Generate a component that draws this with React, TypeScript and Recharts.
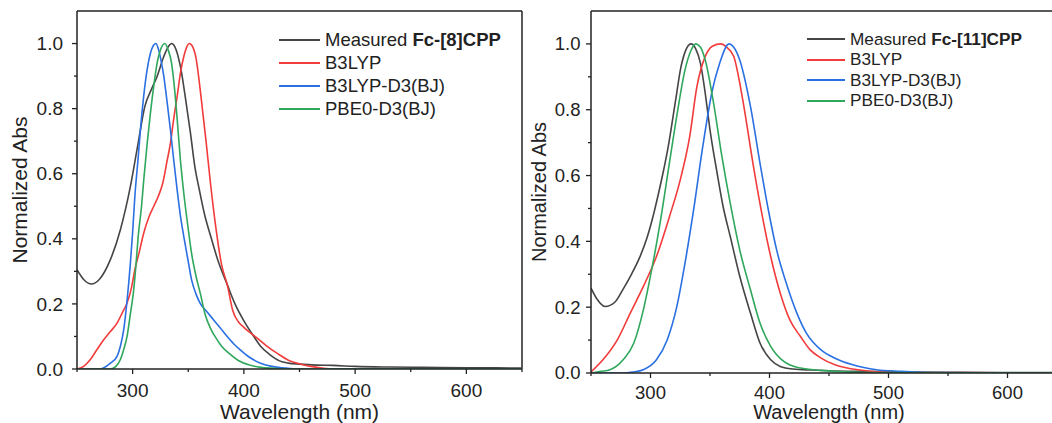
import { LineChart, Line, XAxis, YAxis, ReferenceLine, Legend } from "recharts";

// Fc-[8]CPP panel
const fc8MeasuredNm = [250, 256, 263, 270, 280, 289, 298, 305, 311, 317, 322, 328, 332, 335, 338, 343, 348, 352, 356, 360, 365, 370, 377, 385, 392, 400, 407, 415, 423, 432, 440, 450, 465, 480, 500, 530, 560, 600, 650];
const fc8MeasuredAbs = [0.305, 0.275, 0.261, 0.275, 0.336, 0.428, 0.561, 0.695, 0.807, 0.86, 0.899, 0.96, 0.99, 1.0, 0.99, 0.929, 0.82, 0.725, 0.62, 0.55, 0.47, 0.41, 0.33, 0.26, 0.2, 0.148, 0.11, 0.07, 0.045, 0.025, 0.018, 0.015, 0.012, 0.011, 0.008, 0.006, 0.005, 0.004, 0.003];

const fc8B3lypNm = [250, 256, 262, 268, 274, 280, 286, 291, 295, 299, 302, 306, 310, 315, 319, 323, 327, 331, 334, 337, 340, 343, 346, 349, 351, 354, 357, 360, 363, 366, 370, 375, 380, 385, 390, 395, 400, 405, 410, 420, 430, 440, 450, 460, 470, 480, 650];
const fc8B3lypAbs = [0, 0.008, 0.029, 0.06, 0.09, 0.115, 0.141, 0.175, 0.203, 0.25, 0.305, 0.36, 0.418, 0.47, 0.5, 0.53, 0.57, 0.64, 0.694, 0.77, 0.837, 0.91, 0.96, 0.992, 1.0, 0.99, 0.955, 0.88, 0.79, 0.7, 0.57, 0.43, 0.32, 0.26, 0.18, 0.145, 0.128, 0.113, 0.1, 0.072, 0.048, 0.027, 0.016, 0.008, 0.003, 0, 0];

const fc8D3Nm = [250, 271, 280, 286, 289, 292, 295, 298, 300, 302, 305, 307, 310, 313, 316, 318, 321, 323, 326, 328, 331, 334, 337, 340, 343, 346, 350, 353, 357, 361, 367, 373, 379, 385, 391, 397, 405, 415, 425, 435, 450, 650];
const fc8D3Abs = [0, 0, 0.018, 0.039, 0.07, 0.121, 0.21, 0.326, 0.42, 0.53, 0.65, 0.735, 0.84, 0.919, 0.97, 0.99, 1.0, 0.985, 0.94, 0.9, 0.82, 0.735, 0.64, 0.551, 0.47, 0.407, 0.33, 0.274, 0.23, 0.2, 0.175, 0.15, 0.125, 0.1, 0.077, 0.058, 0.036, 0.018, 0.008, 0.004, 0, 0];

const fc8Pbe0Nm = [250, 280, 285, 289, 292, 295, 298, 301, 303, 305, 308, 310, 313, 316, 319, 322, 325, 329, 332, 335, 338, 340, 343, 346, 350, 353, 357, 361, 365, 370, 375, 380, 387, 395, 405, 415, 427, 440, 650];
const fc8Pbe0Abs = [0, 0, 0.008, 0.029, 0.06, 0.1, 0.17, 0.244, 0.32, 0.407, 0.5, 0.581, 0.69, 0.786, 0.87, 0.94, 0.98, 1.0, 0.98, 0.94, 0.85, 0.77, 0.64, 0.54, 0.43, 0.355, 0.285, 0.23, 0.17, 0.125, 0.095, 0.07, 0.047, 0.026, 0.012, 0.005, 0.002, 0, 0];

// Fc-[11]CPP panel
const fc11MeasuredNm = [250, 255, 262, 270, 277, 284, 291, 297, 302, 307, 311, 315, 318, 322, 325, 329, 334, 338, 342, 346, 350, 356, 361, 367, 375, 384, 392, 401, 409, 420, 435, 450, 480, 520, 560, 600, 650];
const fc11MeasuredAbs = [0.258, 0.225, 0.202, 0.215, 0.255, 0.3, 0.352, 0.41, 0.474, 0.55, 0.616, 0.69, 0.757, 0.85, 0.919, 0.975, 1.0, 0.985, 0.941, 0.85, 0.739, 0.607, 0.506, 0.415, 0.294, 0.182, 0.091, 0.04, 0.02, 0.012, 0.009, 0.007, 0.005, 0.003, 0.002, 0.001, 0.001];

const fc11B3lypNm = [250, 260, 272, 283, 294, 305, 316, 325, 333, 339, 346, 352, 359, 364, 370, 374, 378, 387, 394, 401, 409, 417, 426, 434, 443, 455, 470, 490, 520, 650];
const fc11B3lypAbs = [0.003, 0.04, 0.1, 0.182, 0.263, 0.354, 0.476, 0.587, 0.72, 0.87, 0.962, 0.993, 1.0, 0.99, 0.962, 0.9, 0.82, 0.617, 0.476, 0.354, 0.243, 0.162, 0.111, 0.071, 0.046, 0.025, 0.012, 0.004, 0.001, 0];

const fc11D3Nm = [250, 277, 285, 294, 305, 314, 322, 329, 336, 344, 352, 358, 366, 370, 375, 384, 392, 399, 406, 415, 423, 431, 443, 455, 470, 490, 510, 540, 650];
const fc11D3Abs = [0, 0, 0.003, 0.01, 0.04, 0.1, 0.2, 0.334, 0.49, 0.69, 0.86, 0.94, 1.0, 0.99, 0.951, 0.81, 0.638, 0.496, 0.374, 0.263, 0.182, 0.121, 0.071, 0.045, 0.025, 0.01, 0.005, 0.001, 0];

const fc11Pbe0Nm = [250, 258, 266, 277, 286, 294, 301, 308, 315, 322, 329, 334, 338, 342, 346, 353, 360, 367, 375, 384, 392, 401, 412, 426, 443, 460, 480, 650];
const fc11Pbe0Abs = [0, 0.005, 0.01, 0.04, 0.091, 0.192, 0.314, 0.455, 0.617, 0.779, 0.921, 0.98, 1.0, 0.99, 0.951, 0.82, 0.658, 0.516, 0.374, 0.253, 0.152, 0.081, 0.035, 0.015, 0.008, 0.004, 0.001, 0];

const xTicks = [250, 300, 350, 400, 450, 500, 550, 600, 650];
const yTicks = [0, 0.1, 0.2, 0.3, 0.4, 0.5, 0.6, 0.7, 0.8, 0.9, 1.0];

const COLORS = ["#454545", "#f23b3b", "#2a70e2", "#2fa75c"];
const FONT = '"Liberation Sans", Arial, sans-serif';
const INK = "#222";

const toPoints = (nm: number[], abs: number[]) => nm.map((x, i) => ({ x, y: abs[i] }));

type Panel = {
  names: string[];
  series: { x: number; y: number }[][];
};

const panel8: Panel = {
  names: ["Measured |Fc-[8]CPP", "B3LYP", "B3LYP-D3(BJ)", "PBE0-D3(BJ)"],
  series: [
    toPoints(fc8MeasuredNm, fc8MeasuredAbs),
    toPoints(fc8B3lypNm, fc8B3lypAbs),
    toPoints(fc8D3Nm, fc8D3Abs),
    toPoints(fc8Pbe0Nm, fc8Pbe0Abs),
  ],
};

const panel11: Panel = {
  names: ["Measured |Fc-[11]CPP", "B3LYP", "B3LYP-D3(BJ)", "PBE0-D3(BJ)"],
  series: [
    toPoints(fc11MeasuredNm, fc11MeasuredAbs),
    toPoints(fc11B3lypNm, fc11B3lypAbs),
    toPoints(fc11D3Nm, fc11D3Abs),
    toPoints(fc11Pbe0Nm, fc11Pbe0Abs),
  ],
};

function XTick(props: any) {
  const { x, y, payload, fontSize, labelOffset } = props;
  const v = payload.value;
  const major = v % 100 === 0 && v >= 300;
  return (
    <g>
      <line x1={x} x2={x} y1={y} y2={y + (major ? 5 : 3)} stroke={INK} strokeWidth={1.3} />
      {major && (
        <text x={x} y={y + labelOffset} textAnchor="middle" fontSize={fontSize} fill={INK} fontFamily={FONT}>
          {v}
        </text>
      )}
    </g>
  );
}

function YTick(props: any) {
  const { x, y, payload, fontSize, gap } = props;
  const v = payload.value;
  const major = Math.round(v * 10) % 2 === 0;
  return (
    <g>
      <line x1={x} x2={x - (major ? 5 : 3)} y1={y} y2={y} stroke={INK} strokeWidth={1.3} />
      {major && (
        <text x={x - gap} y={y} dy="0.35em" textAnchor="end" fontSize={fontSize} fill={INK} fontFamily={FONT}>
          {v.toFixed(1)}
        </text>
      )}
    </g>
  );
}

function LegendBox({ names, fontSize, rowHeight, lineWidth }: { names: string[]; fontSize: number; rowHeight: number; lineWidth: number }) {
  return (
    <div style={{ fontFamily: FONT, fontSize, color: INK }}>
      {names.map((name, i) => {
        const [plain, bold] = name.split("|");
        return (
          <div key={name} style={{ display: "flex", alignItems: "center", height: rowHeight, whiteSpace: "nowrap" }}>
            <span style={{ display: "inline-block", width: lineWidth, borderTop: `2px solid ${COLORS[i]}`, marginRight: 5 }} />
            <span>
              {plain}
              {bold && <b>{bold}</b>}
            </span>
          </div>
        );
      })}
    </div>
  );
}

type ChartProps = {
  panel: Panel;
  width: number;
  yAxisWidth: number;
  xAxisHeight: number;
  rightMargin: number;
  tickFont: number;
  titleFont: number;
  xLabelOffset: number;
  yGap: number;
  yTitleOffset: number;
  legendLeft: number;
  legendTop: number;
  legendFont: number;
  legendRow: number;
  legendLine: number;
};

function SpectrumChart(p: ChartProps) {
  return (
    <LineChart
      width={p.width}
      height={423}
      margin={{ top: 11, right: p.rightMargin, left: 0, bottom: 0 }}
      style={{ fontFamily: FONT }}
    >
      <XAxis
        dataKey="x"
        type="number"
        domain={[250, 650]}
        ticks={xTicks}
        allowDataOverflow
        height={p.xAxisHeight}
        tickSize={0}
        tickMargin={0}
        tickLine={false}
        axisLine={{ stroke: INK, strokeWidth: 1.5 }}
        tick={<XTick fontSize={p.tickFont} labelOffset={p.xLabelOffset} />}
        interval={0}
        label={{ value: "Wavelength (nm)", position: "insideBottom", offset: 4, fontSize: p.titleFont, fill: INK }}
      />
      <YAxis
        type="number"
        domain={[0, 1.1]}
        ticks={yTicks}
        allowDataOverflow
        width={p.yAxisWidth}
        tickSize={0}
        tickMargin={0}
        tickLine={false}
        axisLine={{ stroke: INK, strokeWidth: 1.5 }}
        tick={<YTick fontSize={p.tickFont} gap={p.yGap} />}
        interval={0}
        label={{
          value: "Normalized Abs",
          angle: -90,
          position: "insideLeft",
          offset: p.yTitleOffset,
          fontSize: p.titleFont,
          fill: INK,
          style: { textAnchor: "middle" },
        }}
      />
      <ReferenceLine y={1.1} stroke={INK} strokeWidth={1.5} ifOverflow="visible" />
      <ReferenceLine x={650} stroke={INK} strokeWidth={1.5} ifOverflow="visible" />
      {p.panel.series.map((data, i) => (
        <Line
          key={i}
          data={data}
          dataKey="y"
          name={p.panel.names[i]}
          type="monotone"
          stroke={COLORS[i]}
          strokeWidth={1.6}
          dot={false}
          activeDot={false}
          isAnimationActive={false}
        />
      ))}
      <Legend
        layout="vertical"
        align="center"
        verticalAlign="middle"
        wrapperStyle={{ left: p.legendLeft, top: p.legendTop, width: "auto" }}
        content={() => (
          <LegendBox names={p.panel.names} fontSize={p.legendFont} rowHeight={p.legendRow} lineWidth={p.legendLine} />
        )}
      />
    </LineChart>
  );
}

export default function App() {
  return (
    <div
      style={{
        position: "absolute",
        left: 0,
        top: 0,
        width: 1052,
        height: 423,
        overflow: "hidden",
        background: "#fff",
        fontFamily: FONT,
      }}
    >
      <div style={{ position: "absolute", left: 0, top: 0 }}>
        <SpectrumChart
          panel={panel8}
          width={540}
          yAxisWidth={77}
          xAxisHeight={54}
          rightMargin={18}
          tickFont={19}
          titleFont={21}
          xLabelOffset={27.5}
          yGap={14}
          yTitleOffset={20}
          legendLeft={279}
          legendTop={28}
          legendFont={18.5}
          legendRow={23}
          legendLine={41}
        />
      </div>
      <div style={{ position: "absolute", left: 520, top: 0 }}>
        <SpectrumChart
          panel={panel11}
          width={560}
          yAxisWidth={71}
          xAxisHeight={50}
          rightMargin={13}
          tickFont={18.5}
          titleFont={20}
          xLabelOffset={25.5}
          yGap={10.5}
          yTitleOffset={19}
          legendLeft={287}
          legendTop={29}
          legendFont={17.2}
          legendRow={20.5}
          legendLine={38}
        />
      </div>
    </div>
  );
}
